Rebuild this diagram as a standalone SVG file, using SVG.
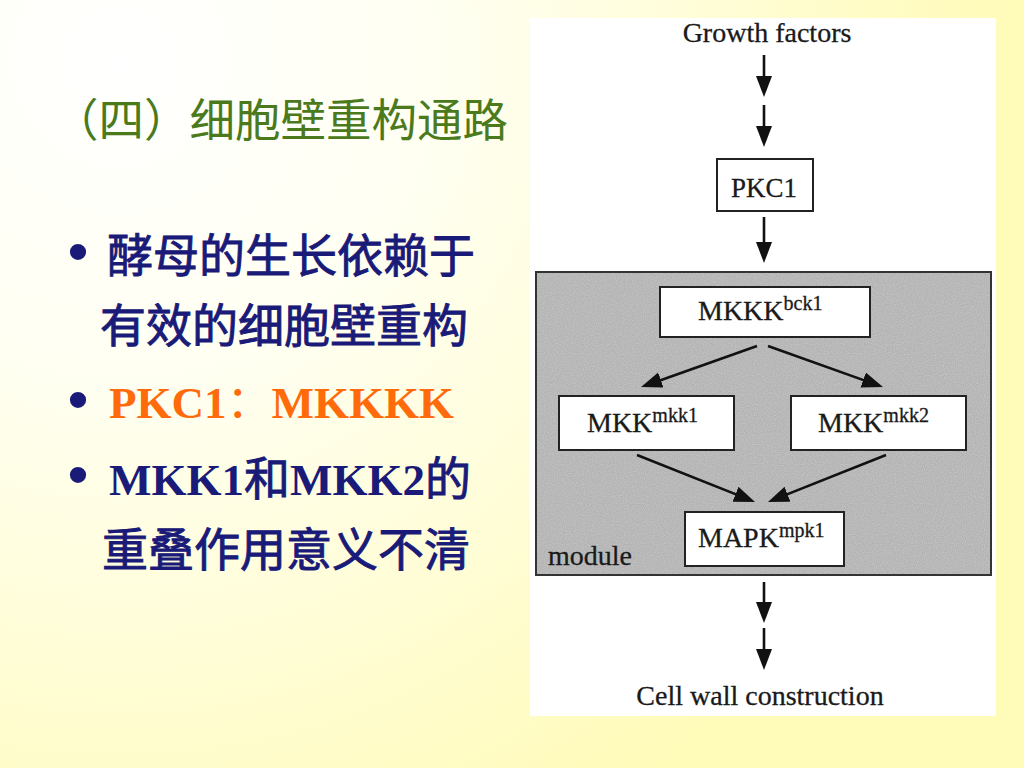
<svg xmlns="http://www.w3.org/2000/svg" width="1024" height="768" viewBox="0 0 1024 768">
  <defs>
    <radialGradient id="bg" cx="120" cy="60" r="900" gradientUnits="userSpaceOnUse">
      <stop offset="0" stop-color="#ffffff"/>
      <stop offset="0.35" stop-color="#fffff2"/>
      <stop offset="1" stop-color="#fffbb8"/>
    </radialGradient>
    <filter id="speckle" x="0" y="0" width="100%" height="100%">
      <feTurbulence type="fractalNoise" baseFrequency="0.9" numOctaves="1" seed="3" result="n"/>
      <feColorMatrix in="n" type="matrix" values="0 0 0 0 1  0 0 0 0 1  0 0 0 0 1  0 0 0 0.5 -0.18" result="w"/>
      <feComposite in="w" in2="SourceGraphic" operator="in"/>
    </filter>
    <marker id="ah" markerUnits="userSpaceOnUse" markerWidth="22" markerHeight="17" refX="10" refY="8" orient="auto">
      <path d="M0,0 L21,8 L0,16 Z" fill="#111"/>
    </marker>
  </defs>
  <style>
    .cjk { font-family: "Noto Sans CJK SC", sans-serif; }
    .zh { font-family: "Noto Sans CJK SC", sans-serif; font-size: 46px; font-weight: normal; fill: #1a1a78; stroke: #1a1a78; stroke-width: 0.9; }
    .lat { font-family: "Liberation Serif", "Noto Sans CJK SC", serif; font-size: 45px; font-weight: bold; fill: #1a1a78; }
    .bul { font-family: "Liberation Sans", sans-serif; font-size: 60px; fill: #1a1a78; }
    .lab { font-family: "Liberation Serif", serif; font-size: 28px; fill: #1a1a1a; stroke: #1a1a1a; stroke-width: 0.3; }
    .sup { font-size: 20px; }
    .box { fill: #ffffff; stroke: #222; stroke-width: 2; }
    .conn line { stroke: #111; stroke-width: 2.6; marker-end: url(#ah); }
  </style>

  <rect x="0" y="0" width="1024" height="768" fill="url(#bg)"/>

  <!-- Left text -->
  <g id="title">
    <text x="53" y="137" class="cjk" font-size="45.5" fill="#4a7a1c">（四）细胞壁重构通路</text>
  </g>
  <g id="bullets">
    <text x="67.5" y="272" class="bul">•</text>
    <text x="107" y="272" class="zh">酵母的生长依赖于</text>
    <text x="100" y="342" class="zh">有效的细胞壁重构</text>
    <text x="67.5" y="420" class="bul">•</text>
    <text x="109" y="418" class="lat" style="fill:#ff6a0a">PKC1<tspan font-family="Noto Sans CJK SC, sans-serif" font-weight="normal">：</tspan>MKKKK</text>
    <text x="67.5" y="495" class="bul">•</text>
    <text x="109" y="495" class="lat">MKK1<tspan class="zh" font-size="45">和</tspan>MKK2<tspan class="zh" font-size="45">的</tspan></text>
    <text x="102" y="566" class="zh">重叠作用意义不清</text>
  </g>

  <!-- Figure panel -->
  <rect x="530" y="18" width="466" height="698" fill="#ffffff"/>

  <g id="growth-factors">
    <text x="767" y="42" class="lab" text-anchor="middle">Growth factors</text>
  </g>
  <g id="pkc1">
    <rect x="717" y="159" width="96" height="52" class="box"/>
    <text x="731" y="197" class="lab" font-size="34" textLength="66" lengthAdjust="spacingAndGlyphs">PKC1</text>
  </g>
  <g id="module">
    <rect x="536" y="272" width="455" height="303" fill="#b3b3b3"/>
    <rect x="536" y="272" width="455" height="303" fill="#b3b3b3" filter="url(#speckle)"/>
    <rect x="536" y="272" width="455" height="303" fill="none" stroke="#333" stroke-width="2"/>
    <text x="548" y="565" class="lab" font-size="33">module</text>
  </g>
  <g id="mkkk">
    <rect x="660" y="287" width="210" height="50" class="box"/>
    <text x="698" y="320" class="lab" font-size="29">MKKK<tspan dy="-10" class="sup">bck1</tspan></text>
  </g>
  <g id="mkk1">
    <rect x="559" y="396" width="175" height="54" class="box"/>
    <text x="587" y="432" class="lab" font-size="29">MKK<tspan dy="-10" class="sup">mkk1</tspan></text>
  </g>
  <g id="mkk2">
    <rect x="791" y="396" width="175" height="54" class="box"/>
    <text x="818" y="432" class="lab" font-size="29">MKK<tspan dy="-10" class="sup">mkk2</tspan></text>
  </g>
  <g id="mapk">
    <rect x="685" y="512" width="159" height="54" class="box"/>
    <text x="698" y="547" class="lab" font-size="28">MAPK<tspan dy="-10" class="sup" font-size="21">mpk1</tspan></text>
  </g>
  <g id="cell-wall">
    <text x="760" y="705" class="lab" text-anchor="middle">Cell wall construction</text>
  </g>

  <g id="connectors" class="conn">
    <line x1="764" y1="55" x2="764" y2="86"/>
    <line x1="764" y1="105" x2="764" y2="136"/>
    <line x1="764" y1="217" x2="764" y2="252"/>
    <line x1="757" y1="346" x2="651.4" y2="383.4"/>
    <line x1="768" y1="346" x2="872.6" y2="383.4"/>
    <line x1="637" y1="455" x2="744.8" y2="497.9"/>
    <line x1="886" y1="455" x2="778.2" y2="497.9"/>
    <line x1="764" y1="582" x2="764" y2="612"/>
    <line x1="764" y1="628" x2="764" y2="659"/>
  </g>
</svg>
